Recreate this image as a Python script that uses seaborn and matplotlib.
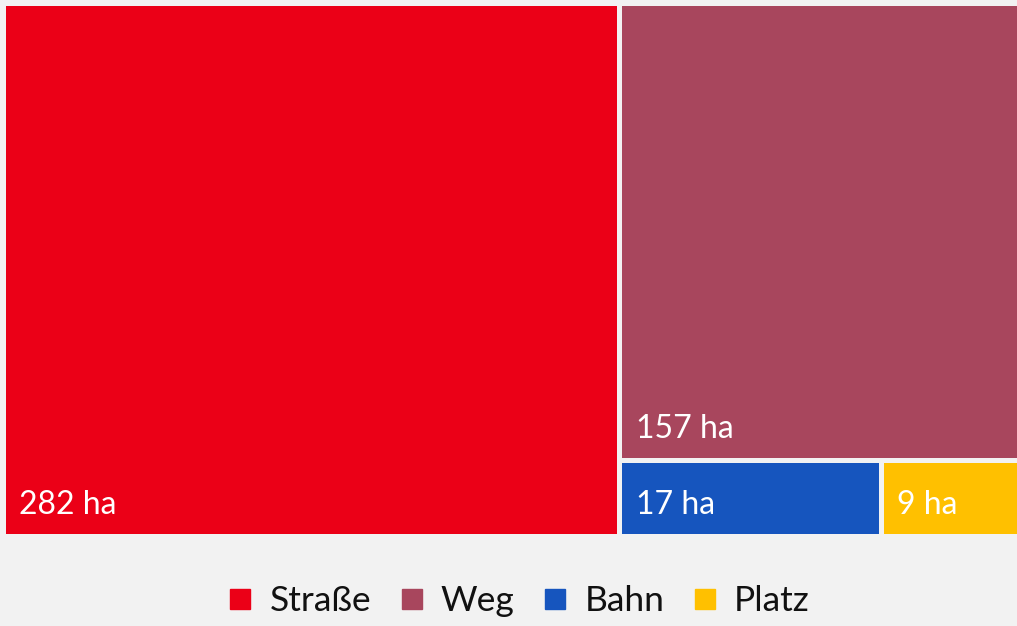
import matplotlib
matplotlib.use("Agg")
import matplotlib.pyplot as plt
import seaborn as sns
from matplotlib.patches import Rectangle
from matplotlib.lines import Line2D

# ===================== data =====================
categories = ["Straße", "Weg", "Bahn", "Platz"]
values = [282, 157, 17, 9]
unit = "ha"
colors = ["#eb0017", "#a8465d", "#1655be", "#ffc000"]

BG = "#f2f2f2"
W_PX, H_PX = 1017, 626
BOX_W, BOX_H = 1017, 533   # treemap box in px (data units == px)


def worst(row, side):
    s = sum(row)
    return max(max(side * side * r / (s * s), s * s / (side * side * r)) for r in row)


def squarify(areas, x, y, w, h):
    """plain squarified treemap (Bruls et al.), returns list of (x, y, w, h)"""
    rects = []
    areas = list(areas)
    while areas:
        side = min(w, h)
        row = [areas.pop(0)]
        while areas and worst(row + [areas[0]], side) <= worst(row, side):
            row.append(areas.pop(0))
        s = sum(row)
        if w >= h:
            # column on the left
            cw = s / h
            cy = y
            for a in row:
                rh = a / cw
                rects.append((x, cy, cw, rh))
                cy += rh
            x += cw
            w -= cw
        else:
            # row on top
            rh = s / w
            cx = x
            for a in row:
                rw = a / rh
                rects.append((cx, y, rw, rh))
                cx += rw
            y += rh
            h -= rh
    return rects


sns.set_theme(style="white")
plt.rcParams["font.family"] = ["Lato", "DejaVu Sans"]

fig = plt.figure(figsize=(W_PX / 100, H_PX / 100), dpi=100, facecolor=BG)
ax = fig.add_axes([2.5 / W_PX, (H_PX - 535.5) / H_PX, BOX_W / W_PX, BOX_H / H_PX])
ax.set_facecolor(BG)

total = sum(values)
areas = [v / total * BOX_W * BOX_H for v in values]
rects = squarify(areas, 0, 0, BOX_W, BOX_H)

for (x, y, w, h), v, c in zip(rects, values, colors):
    ax.add_patch(Rectangle((x, y), w, h, facecolor=c, edgecolor=BG, linewidth=3.6))
    ax.annotate(f"{v} {unit}", xy=(x, y + h), xytext=(11.9, 15.5),
                textcoords="offset points", ha="left", va="baseline",
                color="white", fontsize=23)

ax.set_xlim(0, BOX_W)
ax.set_ylim(BOX_H, 0)
ax.axis("off")

handles = [Line2D([0], [0], marker="s", linestyle="None", markersize=14.5,
                  markerfacecolor=c, markeredgecolor=c) for c in colors]
fig.legend(handles, categories, loc="center", bbox_to_anchor=(0.511, 0.04),
           ncol=4, frameon=False, fontsize=25.5, handlelength=0.6,
           handletextpad=0.52, columnspacing=0.85, labelcolor="#111111")

fig.savefig("out.png", dpi=100, facecolor=BG)
